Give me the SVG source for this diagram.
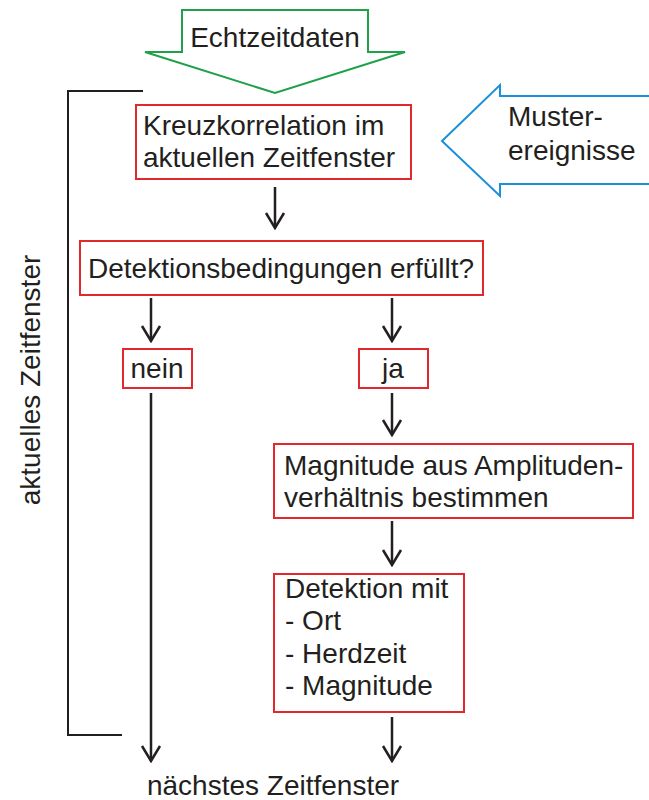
<svg xmlns="http://www.w3.org/2000/svg" width="649" height="800" viewBox="0 0 649 800">
<style>
text{font-family:"Liberation Sans",Arial,sans-serif;font-size:28px;fill:#231f20}
.box{fill:#fff;stroke:#e2282c;stroke-width:2}
.con{stroke:#231f20;stroke-width:2.5;fill:none}
</style>
<defs>
<marker id="ah" markerUnits="userSpaceOnUse" viewBox="-18 -11 20 22" refX="0" refY="0" markerWidth="20" markerHeight="22" orient="auto">
<path d="M-15,-9 L0,0 L-15,9" fill="none" stroke="#231f20" stroke-width="2.5"/>
</marker>
</defs>
<rect width="649" height="800" fill="#fff"/>
<g id="echtzeitdaten">
<polygon points="182,10 368,10 368,52 405,52 275,93 145,52 182,52" fill="#fff" stroke="#1fa049" stroke-width="2"/>
<text x="275" y="47" text-anchor="middle">Echtzeitdaten</text>
</g>
<g id="musterereignisse">
<polygon points="652,96 500,96 500,85 442,141 500,196 500,184 652,184" fill="#fff" stroke="#1b8fd8" stroke-width="2"/>
<text x="508" y="126">Muster-</text>
<text x="508" y="160">ereignisse</text>
</g>
<g id="bracket">
<polyline points="143,91 68,91 68,735 122,735" fill="none" stroke="#231f20" stroke-width="2"/>
<text transform="translate(40,380) rotate(-90)" text-anchor="middle">aktuelles Zeitfenster</text>
</g>
<g id="kreuz">
<rect class="box" x="136" y="105" width="275" height="74"/>
<text x="143" y="135">Kreuzkorrelation im</text>
<text x="143" y="167">aktuellen Zeitfenster</text>
</g>
<g id="detektionsbed">
<rect class="box" x="80" y="241" width="403" height="54"/>
<text x="88" y="278">Detektionsbedingungen erfüllt?</text>
</g>
<g id="nein">
<rect class="box" x="123" y="349" width="69" height="39"/>
<text x="157" y="378" text-anchor="middle">nein</text>
</g>
<g id="ja">
<rect class="box" x="359" y="349" width="69" height="39"/>
<text x="393" y="378" text-anchor="middle">ja</text>
</g>
<g id="magnitude">
<rect class="box" x="274" y="444" width="359" height="74"/>
<text x="284" y="475">Magnitude aus Amplituden-</text>
<text x="284" y="507">verhältnis bestimmen</text>
</g>
<g id="detektion">
<rect class="box" x="274" y="574" width="190" height="138"/>
<text x="285" y="598">Detektion mit</text>
<text x="285" y="630">- Ort</text>
<text x="285" y="663">- Herdzeit</text>
<text x="285" y="695">- Magnitude</text>
</g>
<g id="naechstes">
<text x="273" y="795" text-anchor="middle">nächstes Zeitfenster</text>
</g>
<g id="connectors">
<line class="con" x1="275" y1="187" x2="275" y2="228" marker-end="url(#ah)"/>
<line class="con" x1="151" y1="298" x2="151" y2="341" marker-end="url(#ah)"/>
<line class="con" x1="392" y1="298" x2="392" y2="341" marker-end="url(#ah)"/>
<line class="con" x1="392" y1="393" x2="392" y2="435" marker-end="url(#ah)"/>
<line class="con" x1="392" y1="521" x2="392" y2="565" marker-end="url(#ah)"/>
<line class="con" x1="151" y1="393" x2="151" y2="761" marker-end="url(#ah)"/>
<line class="con" x1="392" y1="717" x2="392" y2="761" marker-end="url(#ah)"/>
</g>
</svg>
